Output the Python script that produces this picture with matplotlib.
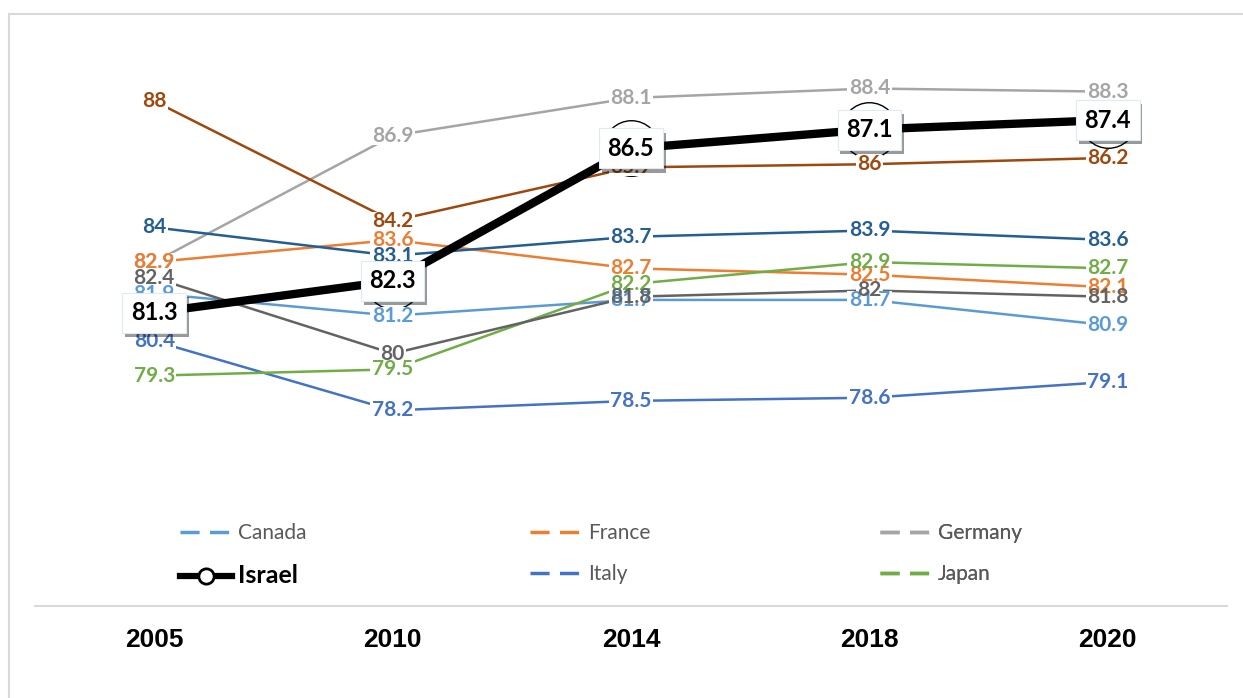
import matplotlib
matplotlib.use('Agg')
import matplotlib.pyplot as plt
from matplotlib.lines import Line2D
from matplotlib.patches import Rectangle
import matplotlib.patheffects as pe

years = ['2005', '2010', '2014', '2018', '2020']
canada = [81.9, 81.2, 81.7, 81.7, 80.9]
france = [82.9, 83.6, 82.7, 82.5, 82.1]
germany = [82.9, 86.9, 88.1, 88.4, 88.3]
israel = [81.3, 82.3, 86.5, 87.1, 87.4]
italy = [80.4, 78.2, 78.5, 78.6, 79.1]
japan = [79.3, 79.5, 82.2, 82.9, 82.7]
series7 = [84.0, 83.1, 83.7, 83.9, 83.6]
series8 = [88.0, 84.2, 85.9, 86.0, 86.2]
series9 = [82.4, 80.0, 81.8, 82.0, 81.8]

colors = {
    'Canada': '#5B9BD5', 'France': '#ED7D31', 'Germany': '#A5A5A5',
    'Italy': '#4472C4', 'Japan': '#70AD47',
    'S7': '#255E91', 'S8': '#9E480E', 'S9': '#636363',
}
others = [('Canada', canada), ('France', france), ('Germany', germany),
          ('Italy', italy), ('Japan', japan),
          ('S7', series7), ('S8', series8), ('S9', series9)]
# label stacking order (later = on top)
label_order = ['Germany', 'Canada', 'France', 'Italy', 'Japan', 'S7', 'S8', 'S9']

W, H = 1243, 698
fig = plt.figure(figsize=(W / 100, H / 100), dpi=100)
ax = fig.add_axes([35 / W, 92 / H, 1192 / W, 568 / H])
ax.set_xlim(-0.5, 4.5)
ax.set_ylim(72, 90)
x = list(range(len(years)))

for name, vals in others:
    ax.plot(x, vals, color=colors[name], lw=1.8, zorder=2, solid_capstyle='round')

ax.plot(x, israel, color='black', lw=6, zorder=3, solid_capstyle='butt',
        marker='o', ms=40, mfc='white', mec='black', mew=1.0)

data = dict(others)
label_texts = []
for k, name in enumerate(label_order):
    for i, v in enumerate(data[name]):
        t = ax.text(i, v, f'{v:g}', ha='center', va='center', fontsize=15,
                    fontweight='bold', family='Lato', color=colors[name],
                    zorder=5 + k * 0.1)
        label_texts.append(t)

for i, v in enumerate(israel):
    t = ax.text(i, v, f'{v:g}', ha='center', va='center', fontsize=17,
                fontweight='bold', family='Lato', color='black', zorder=20,
                bbox=dict(boxstyle='square,pad=0.36', fc='white', ec='#DDEBF7', lw=0.8))
    t.get_bbox_patch().set_path_effects([
        pe.withSimplePatchShadow(offset=(2, -3), shadow_rgbFace='black', alpha=0.4)])

# axes styling
for s in ['top', 'left', 'right']:
    ax.spines[s].set_visible(False)
ax.spines['bottom'].set_color('#D9D9D9')
ax.spines['bottom'].set_linewidth(1.5)
ax.set_yticks([])
ax.set_xticks(x)
ax.set_xticklabels(years, fontfamily='Liberation Sans', fontweight='bold', fontsize=19)
ax.tick_params(axis='x', length=0, pad=16)

# white backgrounds under the data labels (hide lines, keep overlapping labels visible)
fig.canvas.draw()
inv = ax.transData.inverted()
for t in label_texts:
    bb = t.get_window_extent()
    (x0, y0), (x1, y1) = inv.transform([(bb.x0 - 1.5, bb.y0 + 1), (bb.x1 + 1.5, bb.y1 - 1)])
    ax.add_patch(Rectangle((x0, y0), x1 - x0, y1 - y0, fc='white', ec='none', zorder=4))

# legend (proxy handles, dashed as in the reference), one legend per column
def dashed(c):
    return Line2D([], [], color=c, lw=2.5, dashes=(5.5, 3))

h_israel = Line2D([], [], color='black', lw=4.5, marker='o', ms=11,
                  mfc='white', mec='black', mew=2)
columns = [
    (180, [dashed(colors['Canada']), h_israel], ['Canada', 'Israel']),
    (530, [dashed(colors['France']), dashed(colors['Italy'])], ['France', 'Italy']),
    (880, [dashed(colors['Germany']), dashed(colors['Japan'])], ['Germany', 'Japan']),
]
for xpos, hs, ls in columns:
    leg = ax.legend(hs, ls, ncol=1, frameon=False, loc='upper left',
                    bbox_to_anchor=(xpos / W, 1 - 523 / H), bbox_transform=fig.transFigure,
                    borderpad=0, borderaxespad=0, handlelength=2.5, handletextpad=0.29,
                    labelspacing=1.0, prop={'family': 'Lato', 'size': 15})
    for t in leg.get_texts():
        if t.get_text() == 'Israel':
            t.set_fontweight('bold')
            t.set_fontsize(18)
            t.set_color('black')
        else:
            t.set_color('#595959')
    ax.add_artist(leg)

# outer chart border
fig.add_artist(Rectangle((8.5 / W, -0.05), 1.1, (H - 13.5) / H + 0.05,
                         transform=fig.transFigure, fill=False,
                         ec='#D9D9D9', lw=1.5))

fig.savefig('out.png', dpi=100)
